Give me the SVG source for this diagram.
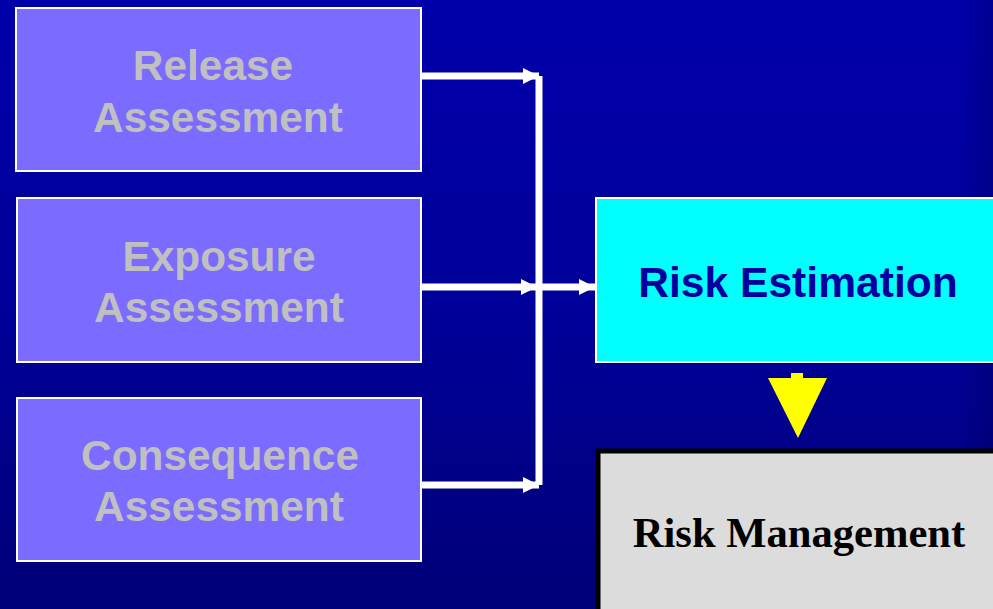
<svg xmlns="http://www.w3.org/2000/svg" width="993" height="609" viewBox="0 0 993 609">
<defs>
<linearGradient id="bg" x1="0" y1="0" x2="0" y2="1">
<stop offset="0" stop-color="#0000AA"/>
<stop offset="0.5" stop-color="#00009A"/>
<stop offset="1" stop-color="#000078"/>
</linearGradient>
<linearGradient id="edge" x1="0" y1="0" x2="1" y2="0">
<stop offset="0" stop-color="#000060" stop-opacity="0"/>
<stop offset="1" stop-color="#000060" stop-opacity="0.35"/>
</linearGradient>
<marker id="wa" viewBox="0 0 16 16" refX="16" refY="8" markerWidth="16" markerHeight="16" markerUnits="userSpaceOnUse" orient="auto">
<path d="M0,0 L16,8 L0,16 Z" fill="#FFFFFF"/>
</marker>
</defs>
<style>
.assess rect{fill:#7B6BFF;stroke:#FFFFFF;stroke-width:2}
.assess text{font-family:"Liberation Sans",Arial,sans-serif;font-weight:bold;font-size:42.4px;fill:#C0C0C0;text-anchor:middle}
.conn{stroke:#FFFFFF;stroke-width:7;fill:none}
</style>
<rect x="0" y="0" width="993" height="609" fill="url(#bg)"/>
<rect x="960" y="0" width="33" height="609" fill="url(#edge)"/>

<g id="release" class="assess">
<rect x="16" y="8" width="405" height="163"/>
<text x="213" y="80">Release</text>
<text x="218" y="132">Assessment</text>
</g>
<g id="exposure" class="assess">
<rect x="17" y="198" width="404" height="164"/>
<text x="219" y="271">Exposure</text>
<text x="219" y="322">Assessment</text>
</g>
<g id="consequence" class="assess">
<rect x="17" y="398" width="404" height="163"/>
<text x="220" y="470">Consequence</text>
<text x="219" y="521">Assessment</text>
</g>

<g id="risk-estimation">
<rect x="596" y="198" width="405" height="164" fill="#00FFFF" stroke="#FFFFFF" stroke-width="2"/>
<text x="798" y="297" font-family="Liberation Sans, Arial, sans-serif" font-weight="bold" font-size="42.6" fill="#0000A0" text-anchor="middle">Risk Estimation</text>
</g>

<g id="risk-management">
<rect x="598" y="451" width="405" height="170" fill="#DCDCDC" stroke="#000000" stroke-width="5"/>
<text x="799" y="547" font-family="Liberation Serif, 'Times New Roman', serif" font-weight="bold" font-size="42.6" fill="#000000" text-anchor="middle">Risk Management</text>
</g>

<g id="connectors">
<path class="conn" d="M539,76 V485"/>
<line class="conn" x1="421" y1="76" x2="539" y2="76" marker-end="url(#wa)" stroke-width="6"/>
<line class="conn" x1="421" y1="287" x2="537" y2="287" marker-end="url(#wa)" stroke-width="6"/>
<line class="conn" x1="421" y1="485" x2="539" y2="485" marker-end="url(#wa)" stroke-width="6"/>
<line class="conn" x1="542" y1="287" x2="595" y2="287" marker-end="url(#wa)" stroke-width="6"/>
<path d="M791,373 H803 V378 H827 L798,438 L768,378 H791 Z" fill="#FFFF00"/>
</g>
</svg>
